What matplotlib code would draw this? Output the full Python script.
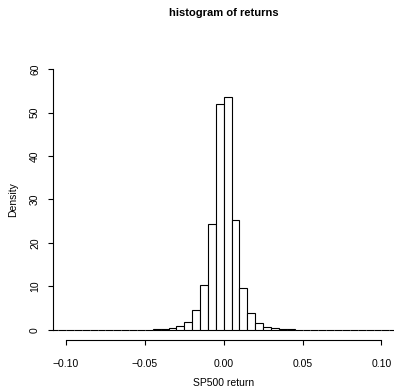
import matplotlib
matplotlib.use('Agg')
import matplotlib.pyplot as plt

plt.rcParams['font.family'] = ['Liberation Sans', 'DejaVu Sans']

# histogram of SP500 returns, bin width 0.005
bin_left = [-0.110, -0.105, -0.100, -0.095, -0.090, -0.085, -0.080, -0.075,
            -0.070, -0.065, -0.060, -0.055, -0.050, -0.045, -0.040, -0.035,
            -0.030, -0.025, -0.020, -0.015, -0.010, -0.005, 0.000, 0.005,
            0.010, 0.015, 0.020, 0.025, 0.030, 0.035, 0.040, 0.045,
            0.050, 0.055, 0.060, 0.065, 0.070, 0.075, 0.080, 0.085,
            0.090, 0.095, 0.100, 0.105]
density = [0.0, 0.02, 0.0, 0.02, 0.02, 0.0, 0.02, 0.02,
           0.04, 0.04, 0.06, 0.06, 0.08, 0.12, 0.2, 0.45,
           1.0, 1.9, 4.5, 10.3, 24.4, 52.0, 53.6, 25.4,
           9.7, 3.9, 1.7, 0.75, 0.4, 0.25, 0.12, 0.08,
           0.06, 0.04, 0.04, 0.02, 0.02, 0.02, 0.0, 0.02,
           0.0, 0.02, 0.02, 0.0]
xticks = [-0.10, -0.05, 0.00, 0.05, 0.10]
xticklabels = ['\u22120.10', '\u22120.05', '0.00', '0.05', '0.10']
yticks = [0, 10, 20, 30, 40, 50, 60]

fig = plt.figure(figsize=(3.94, 3.88), dpi=100)
ax = fig.add_axes([53.4 / 394, 47.6 / 388, 1 - 53.4 / 394, (329.4 - 47.6) / 388])

ax.bar(bin_left, density, width=0.005, align='edge', facecolor='white',
       edgecolor='black', linewidth=0.8)

ax.set_xlim(-0.108, 0.108)
ax.set_ylim(-2.4, 62.4)
for s in ['top', 'right']:
    ax.spines[s].set_visible(False)
ax.spines['left'].set_bounds(0, 60)
ax.spines['bottom'].set_bounds(-0.10, 0.10)
ax.spines['left'].set_linewidth(0.8)
ax.spines['bottom'].set_linewidth(0.8)

ax.set_xticks(xticks)
ax.set_xticklabels(xticklabels)
ax.set_yticks(yticks)
ax.set_yticklabels([str(v) for v in yticks], rotation=90, va='center')
ax.tick_params(length=3.6, width=0.8, labelsize=7.5)
ax.tick_params(axis='x', pad=9.5)
ax.tick_params(axis='y', pad=6)

ax.set_xlabel('SP500 return', fontsize=7.5, labelpad=7)
ax.set_ylabel('Density', fontsize=7.5, labelpad=8.5)
fig.text(224 / 394, 1 - 13.5 / 388, 'histogram of returns', fontsize=8,
         fontweight='bold', ha='center', va='center')

fig.savefig('out.png', dpi=100)
